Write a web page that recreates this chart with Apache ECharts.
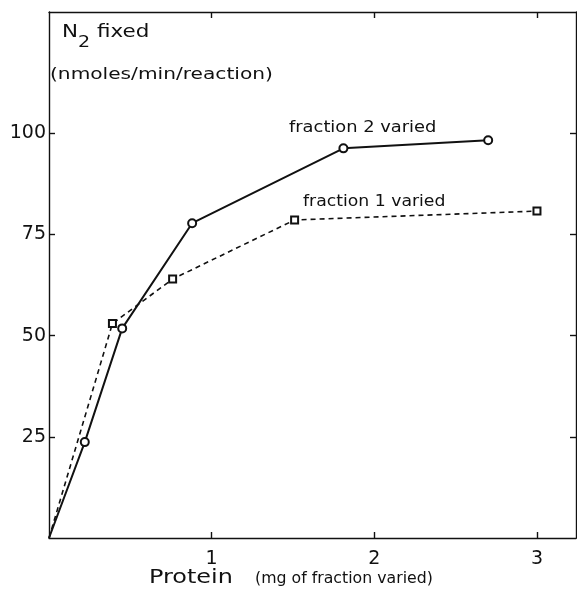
<!DOCTYPE html>
<html>
<head>
<meta charset="utf-8">
<script src="https://cdn.jsdelivr.net/npm/echarts@6/dist/echarts.min.js"></script>
<style>
  html, body { margin: 0; padding: 0; background: #fff; }
  #chart { width: 577px; height: 597px; }
</style>
</head>
<body>
<div id="chart"></div>
<script>
// protein (mg of fraction varied) vs N2 fixed (nmoles/min/reaction)
const frac2Protein = [0, 0.22, 0.45, 0.88, 1.81, 2.70]
const frac2Fixed = [0, 23.7, 51.8, 77.8, 96.3, 98.3]
const frac1Protein = [0, 0.39, 0.76, 1.51, 3.0]
const frac1Fixed = [0, 53.0, 64.0, 78.6, 80.8]
const xTicks = [1, 2, 3]
const yTicks = [25, 50, 75, 100]

const ink = '#111'
const font = 'DejaVu Sans'

function pts(xs, ys) {
  // first point is the origin: drawn without a marker
  return xs.map((x, i) => (i === 0 ? { value: [x, ys[i]], symbol: 'none' } : [x, ys[i]]))
}

const chart = echarts.init(document.getElementById('chart'))

const axisLine = { show: true, onZero: false, lineStyle: { color: ink, width: 1.4 } }
const tickStyle = (vals) => ({ show: true, inside: true, length: 6, customValues: vals, lineStyle: { color: ink, width: 1.4 } })

// the lettering on the original is very wide, so texts are stretched a bit
function label(text, x, y, size, sx) {
  return {
    type: 'text', x, y, scaleX: sx,
    style: { text, fontFamily: font, fontSize: size, fill: ink, verticalAlign: 'middle' },
  }
}

chart.setOption({
  animation: false,
  grid: { left: 49, right: 1, top: 12, bottom: 59 },
  xAxis: [
    {
      type: 'value', min: 0, max: 3.24, position: 'bottom',
      axisLine, axisTick: tickStyle(xTicks),
      axisLabel: { customValues: xTicks, margin: 12, fontFamily: font, fontSize: 19, color: ink },
      splitLine: { show: false },
    },
    {
      type: 'value', min: 0, max: 3.24, position: 'top',
      axisLine, axisTick: tickStyle(xTicks),
      axisLabel: { show: false }, splitLine: { show: false },
    },
  ],
  yAxis: [
    {
      type: 'value', min: 0, max: 130, position: 'left',
      axisLine, axisTick: tickStyle(yTicks),
      axisLabel: { customValues: yTicks, margin: 3, fontFamily: font, fontSize: 19, color: ink },
      splitLine: { show: false },
    },
    {
      type: 'value', min: 0, max: 130, position: 'right',
      axisLine, axisTick: tickStyle(yTicks),
      axisLabel: { show: false }, splitLine: { show: false },
    },
  ],
  series: [
    {
      name: 'fraction 2 varied',
      type: 'line',
      data: pts(frac2Protein, frac2Fixed),
      symbol: 'emptyCircle', symbolSize: 8,
      lineStyle: { color: ink, width: 2 },
      itemStyle: { color: ink, borderWidth: 1.2 },
      z: 3,
    },
    {
      name: 'fraction 1 varied',
      type: 'line',
      data: pts(frac1Protein, frac1Fixed),
      symbol: 'emptyRect', symbolSize: 7,
      lineStyle: { color: ink, width: 1.6, type: [5, 4] },
      itemStyle: { color: ink, borderWidth: 1.1 },
      z: 2,
    },
  ],
  graphic: [
    {
      type: 'text', x: 62, y: 23, scaleX: 1.19,
      style: {
        text: '{n|N}{s|2}{n| fixed}',
        rich: {
          n: { fontFamily: font, fontSize: 18, fill: ink, verticalAlign: 'top' },
          s: { fontFamily: font, fontSize: 16, fill: ink, padding: [12, 0, 0, 0] },
        },
      },
    },
    label('(nmoles/min/reaction)', 50, 75, 16, 1.26),
    label('fraction 2 varied', 289, 128, 15, 1.19),
    label('fraction 1 varied', 303, 202, 15, 1.15),
    label('Protein', 149, 578, 19, 1.26),
    label('(mg of fraction varied)', 255, 579, 15, 1.05),
  ],
})
</script>
</body>
</html>
